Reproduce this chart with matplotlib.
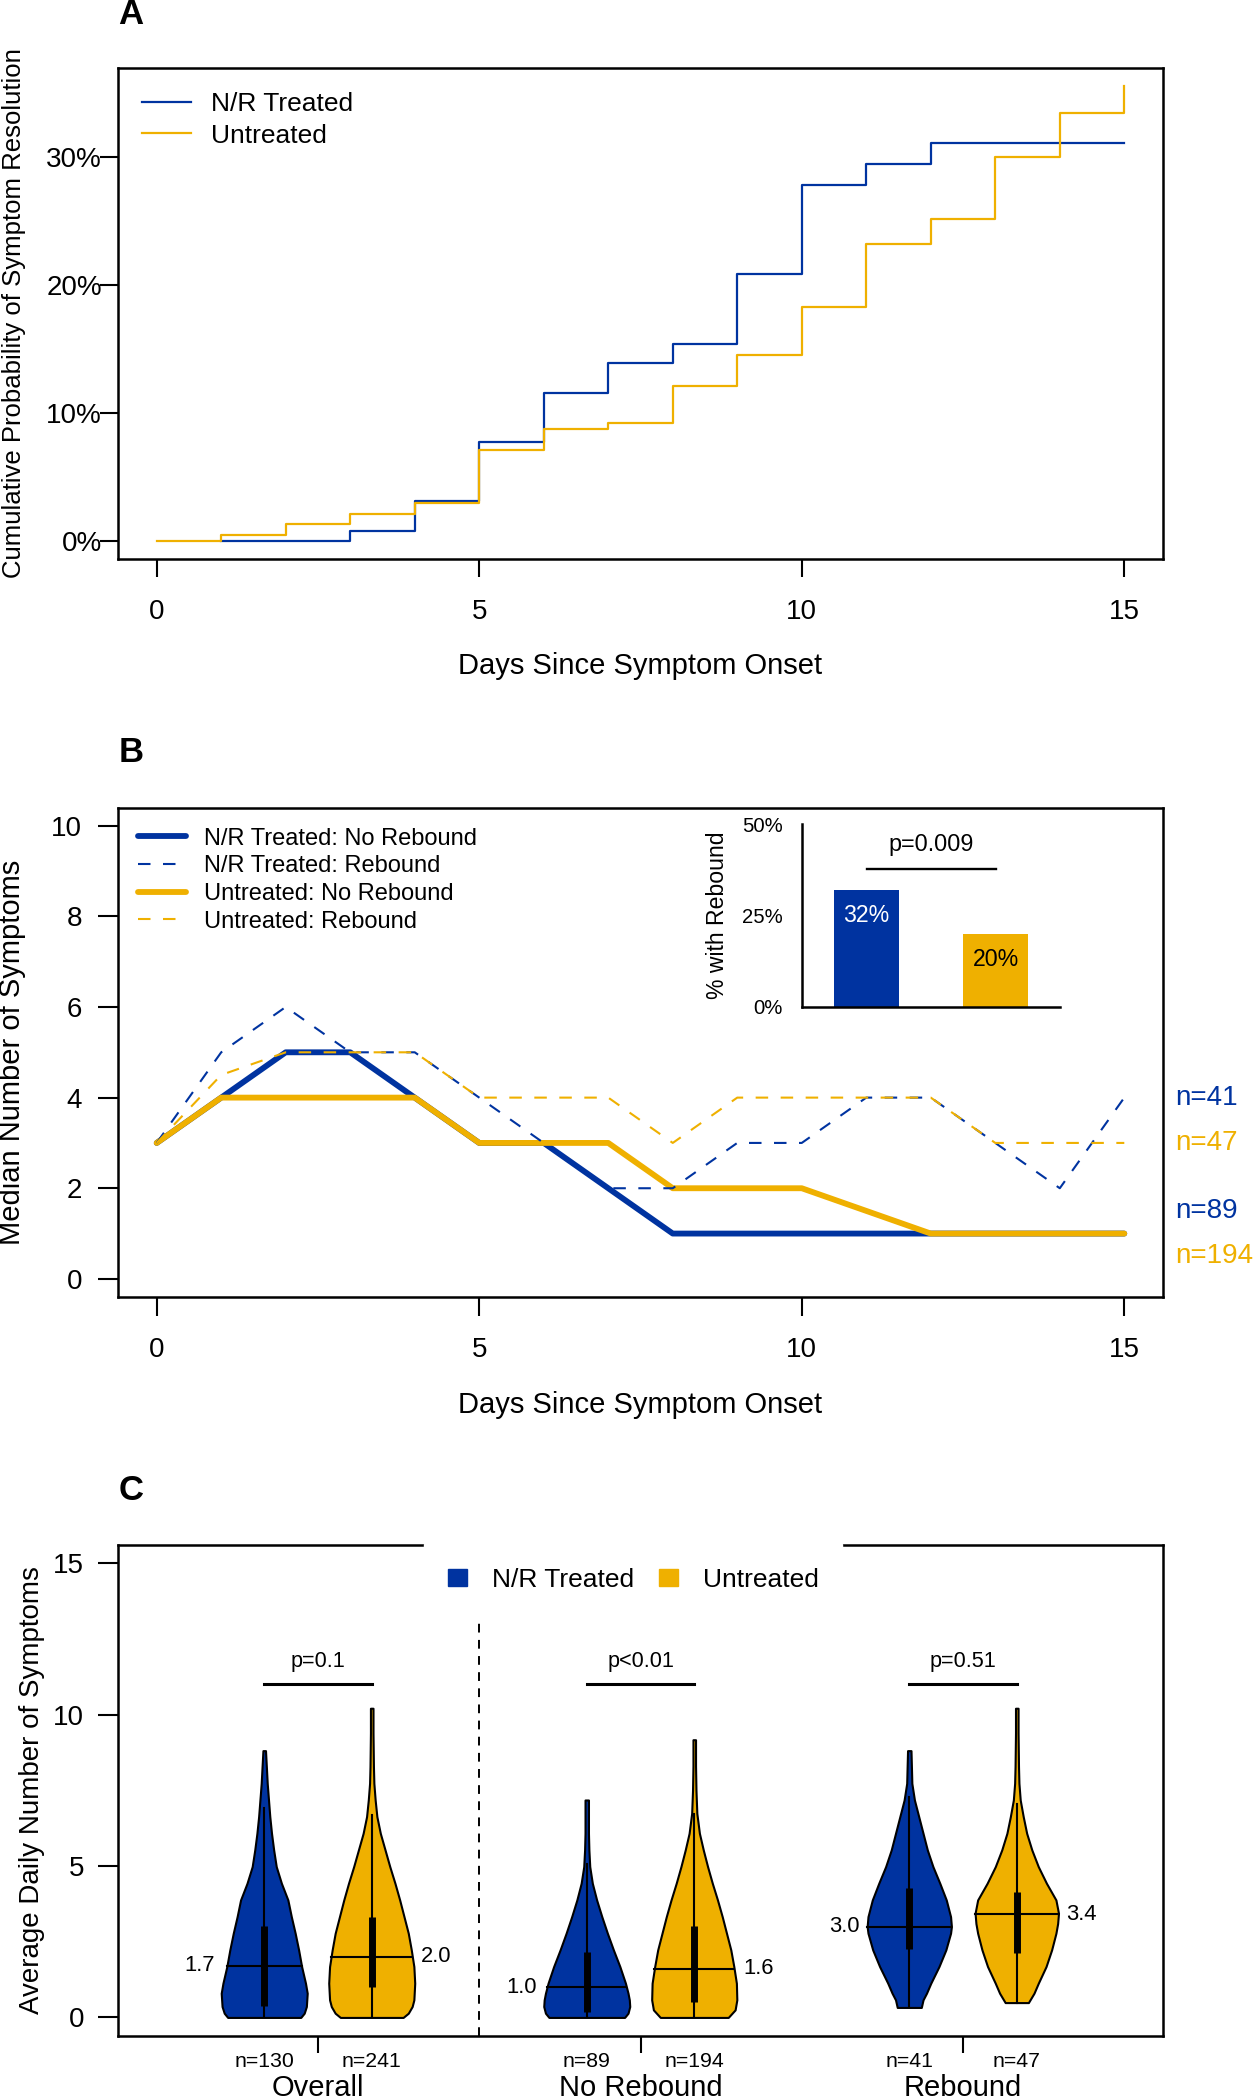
import numpy as np
import matplotlib
matplotlib.use('Agg')
import matplotlib.pyplot as plt
from matplotlib.patches import Patch
from matplotlib.transforms import blended_transform_factory

plt.rcParams['font.family'] = ['Liberation Sans', 'DejaVu Sans']

BLUE = '#0033A0'
GOLD = '#EFB000'

# ---------------- Panel A data ----------------
days = list(range(16))
a_treated_days = days[1:]
a_treated = [0, 0, 0.77, 3.1, 7.7, 11.55, 13.9, 15.4, 20.8, 27.8, 29.4, 31.1, 31.1, 31.1, 31.1]
a_untreated = [0, 0.45, 1.3, 2.1, 2.96, 7.07, 8.74, 9.2, 12.08, 14.5, 18.27, 23.2, 25.1, 30.0, 33.4, 35.5]
a_yticks = [0, 10, 20, 30]
a_yticklabels = ['0%', '10%', '20%', '30%']
x_ticks = [0, 5, 10, 15]

# ---------------- Panel B data ----------------
b_treated_norebound = [3, 4, 5, 5, 4, 3, 3, 2, 1, 1, 1, 1, 1, 1, 1, 1]
b_treated_rebound = [3, 5, 6, 5, 5, 4, 3, 2, 2, 3, 3, 4, 4, 3, 2, 4]
b_untreated_norebound = [3, 4, 4, 4, 4, 3, 3, 3, 2, 2, 2, 1.5, 1, 1, 1, 1]
b_untreated_rebound = [3, 4.5, 5, 5, 5, 4, 4, 4, 3, 4, 4, 4, 4, 3, 3, 3]
b_n_labels = ['n=41', 'n=47', 'n=89', 'n=194']
b_n_y = [4, 3, 1.5, 0.5]
b_n_colors = [BLUE, GOLD, BLUE, GOLD]
inset_pct = [32, 20]
inset_labels = ['32%', '20%']
inset_p = 'p=0.009'

# ---------------- Panel C data ----------------
c_groups = ['Overall', 'No Rebound', 'Rebound']
c_n = ['n=130', 'n=241', 'n=89', 'n=194', 'n=41', 'n=47']
c_pvals = ['p=0.1', 'p<0.01', 'p=0.51']
c_medians = [1.7, 2.0, 1.0, 1.6, 3.0, 3.4]
c_q1 = [0.38, 0.99, 0.17, 0.50, 2.26, 2.12]
c_q3 = [3.02, 3.30, 2.15, 3.02, 4.29, 4.13]
c_wlo = [0.0, 0.0, 0.0, 0.0, 0.33, 0.49]
c_whi = [6.9, 6.7, 5.06, 6.73, 7.28, 7.04]

v_overall_t_y = [0.0, 0.14, 0.36, 0.8, 1.13, 1.68, 2.23, 2.78, 3.33, 3.88, 4.43, 4.98, 5.53, 6.08, 6.63, 7.18, 7.73, 8.28, 8.81]
v_overall_t_d = [0.85, 0.93, 0.98, 1.0, 0.96, 0.87, 0.80, 0.72, 0.63, 0.55, 0.40, 0.28, 0.22, 0.17, 0.13, 0.10, 0.07, 0.05, 0.03]
v_overall_u_y = [0.0, 0.14, 0.36, 0.58, 1.13, 1.68, 2.23, 2.78, 3.33, 3.88, 4.43, 4.98, 5.53, 6.08, 6.63, 7.18, 7.73, 8.28, 9.39, 10.21]
v_overall_u_d = [0.73, 0.85, 0.94, 0.98, 1.0, 0.98, 0.92, 0.85, 0.75, 0.65, 0.54, 0.42, 0.31, 0.20, 0.12, 0.08, 0.05, 0.04, 0.03, 0.03]
v_norb_t_y = [0.0, 0.14, 0.36, 0.58, 0.80, 1.13, 1.68, 2.23, 2.78, 3.33, 3.88, 4.43, 4.98, 5.53, 6.08, 6.63, 7.18]
v_norb_t_d = [0.88, 0.96, 1.0, 0.99, 0.96, 0.90, 0.77, 0.62, 0.48, 0.35, 0.23, 0.13, 0.07, 0.05, 0.04, 0.04, 0.04]
v_norb_u_y = [0.0, 0.25, 0.58, 1.13, 1.68, 2.23, 2.78, 3.33, 3.88, 4.43, 4.98, 5.53, 6.08, 6.74, 7.5, 8.3, 9.17]
v_norb_u_d = [0.79, 0.95, 0.99, 0.98, 0.92, 0.85, 0.75, 0.65, 0.54, 0.42, 0.31, 0.21, 0.12, 0.06, 0.04, 0.03, 0.03]
v_rb_t_y = [0.33, 0.58, 0.80, 1.13, 1.68, 2.23, 2.78, 3.0, 3.33, 3.88, 4.43, 4.98, 5.53, 6.08, 6.63, 7.18, 7.73, 8.28, 8.81]
v_rb_t_d = [0.28, 0.32, 0.40, 0.50, 0.69, 0.85, 0.96, 0.98, 0.96, 0.86, 0.71, 0.55, 0.42, 0.32, 0.22, 0.12, 0.06, 0.05, 0.04]
v_rb_u_y = [0.49, 0.8, 1.13, 1.68, 2.23, 2.78, 3.1, 3.44, 3.88, 4.43, 4.98, 5.53, 6.08, 6.63, 7.18, 7.73, 8.28, 9.39, 10.21]
v_rb_u_d = [0.27, 0.40, 0.50, 0.68, 0.81, 0.91, 0.95, 0.97, 0.91, 0.69, 0.50, 0.35, 0.23, 0.15, 0.08, 0.05, 0.04, 0.03, 0.03]

violins = [(v_overall_t_y, v_overall_t_d), (v_overall_u_y, v_overall_u_d),
           (v_norb_t_y, v_norb_t_d), (v_norb_u_y, v_norb_u_d),
           (v_rb_t_y, v_rb_t_d), (v_rb_u_y, v_rb_u_d)]
positions = [1, 2, 4, 5, 7, 8]
group_pos = [1.5, 4.5, 7.5]
v_colors = [BLUE, GOLD, BLUE, GOLD, BLUE, GOLD]

# ---------------- Layout ----------------
W, H = 1256, 2100
fig = plt.figure(figsize=(W / 100, H / 100), dpi=100)


def box(l, t, r, b):
    return [l / W, 1 - b / H, (r - l) / W, (b - t) / H]


axA = fig.add_axes(box(118, 68, 1163, 559))
axB = fig.add_axes(box(118, 807.6, 1163, 1297))
axC = fig.add_axes(box(118, 1545, 1163, 2035.6))
axI = fig.add_axes(box(802, 824, 1060, 1006.7))

for ax in (axA, axB, axC):
    for s in ax.spines.values():
        s.set_linewidth(1.8)

# ---------------- Panel A ----------------
axA.step(a_treated_days, a_treated, where='post', color=BLUE, lw=1.6, label='N/R Treated')
axA.step(days, a_untreated, where='post', color=GOLD, lw=1.6, label='Untreated')
axA.set_xlim(-0.6, 15.6)
axA.set_ylim(-1.42, 36.92)
axA.set_yticks(a_yticks)
axA.set_yticklabels(a_yticklabels)
axA.set_xticks(x_ticks)
axA.tick_params(axis='y', length=13, width=1.5, pad=-1.5, labelsize=20)
axA.tick_params(axis='x', length=13, width=1.5, pad=15.5, labelsize=20)
axA.set_xlabel('Days Since Symptom Onset', fontsize=21)
axA.xaxis.label.set_va('center')
axA.xaxis.set_label_coords(0.5, -(666 - 559) / 491)
axA.set_ylabel('Cumulative Probability of Symptom Resolution', fontsize=18.5)
axA.yaxis.label.set_va('center')
axA.yaxis.set_label_coords(-(118 - 14) / 1045, 0.5)
axA.legend(loc='upper left', bbox_to_anchor=(0.0, 1), frameon=False, fontsize=19,
           handlelength=1.86, handletextpad=0.78, labelspacing=0.3, borderpad=0.9,
           borderaxespad=0)

# ---------------- Panel B ----------------
dash = (0, (6, 6))
l1, = axB.plot(days, b_treated_norebound, color=BLUE, lw=4.2, solid_capstyle='round',
               solid_joinstyle='round', label='N/R Treated: No Rebound')
l3, = axB.plot(days, b_untreated_norebound, color=GOLD, lw=4.2, solid_capstyle='round',
               solid_joinstyle='round', label='Untreated: No Rebound')
l2, = axB.plot(days, b_treated_rebound, color=BLUE, lw=1.5, ls=dash, label='N/R Treated: Rebound')
l4, = axB.plot(days, b_untreated_rebound, color=GOLD, lw=1.5, ls=dash, label='Untreated: Rebound')
axB.set_xlim(-0.6, 15.6)
axB.set_ylim(-0.4, 10.4)
axB.set_yticks([0, 2, 4, 6, 8, 10])
axB.set_xticks(x_ticks)
axB.tick_params(axis='y', length=14.4, width=1.5, pad=11.5, labelsize=20)
axB.tick_params(axis='x', length=13.5, width=1.5, pad=15, labelsize=20)
axB.set_xlabel('Days Since Symptom Onset', fontsize=21)
axB.xaxis.label.set_va('center')
axB.xaxis.set_label_coords(0.5, -(1405 - 1297) / 489.4)
axB.set_ylabel('Median Number of Symptoms', fontsize=21)
axB.yaxis.label.set_va('center')
axB.yaxis.set_label_coords(-(118 - 12) / 1045, 0.5)
axB.legend(handles=[l1, l2, l3, l4], loc='upper left', bbox_to_anchor=(0, 1), frameon=False,
           fontsize=17, handlelength=2.03, handletextpad=0.75, labelspacing=0.24,
           borderpad=0.85, borderaxespad=0)
tr = blended_transform_factory(axB.transAxes, axB.transData)
for s, y, c in zip(b_n_labels, b_n_y, b_n_colors):
    axB.text(1.0115, y, s, color=c, fontsize=20, ha='left', va='center',
             transform=tr, clip_on=False)

# inset
axI.set_facecolor('none')
axI.bar([1, 2], inset_pct, width=0.5, color=[BLUE, GOLD])
axI.set_xlim(0.5, 2.5)
axI.set_ylim(0, 50)
axI.spines['top'].set_visible(False)
axI.spines['right'].set_visible(False)
axI.spines['left'].set_linewidth(1.8)
axI.spines['bottom'].set_linewidth(1.8)
axI.set_yticks([0, 25, 50])
axI.set_yticklabels(['0%', '25%', '50%'])
axI.set_xticks([])
axI.tick_params(axis='y', length=0, pad=14, labelsize=14.6)
axI.set_ylabel('% with Rebound', fontsize=16.6)
axI.yaxis.label.set_va('center')
axI.yaxis.set_label_coords((718 - 802) / 258, 0.5)
axI.plot([1, 2], [37.6, 37.6], color='black', lw=1.7)
axI.text(1.5, 44.3, inset_p, fontsize=16.8, ha='center', va='center')
for xb, v, lab, c in zip([1, 2], inset_pct, inset_labels, ['white', 'black']):
    axI.text(xb, v - 7, lab, color=c, fontsize=16.7, ha='center', va='center')

# ---------------- Panel C ----------------
half = 0.4
for i, ((vy, vd), p, col) in enumerate(zip(violins, positions, v_colors)):
    vy = np.array(vy)
    vd = np.array(vd)
    axC.fill_betweenx(vy, p - vd * half, p + vd * half, facecolor=col, edgecolor='black',
                      lw=1.5, zorder=2)
    axC.plot([p, p], [c_wlo[i], c_whi[i]], color='black', lw=1.5, zorder=3)
    axC.plot([p, p], [c_q1[i], c_q3[i]], color='black', lw=5, solid_capstyle='butt', zorder=4)
    hw = np.interp(c_medians[i], vy, vd) * half
    axC.plot([p - hw, p + hw], [c_medians[i], c_medians[i]], color='black', lw=1.5, zorder=4)
    if i % 2 == 0:
        axC.text(p - 0.46, c_medians[i], f'{c_medians[i]:.1f}', ha='right', va='center', fontsize=15.8)
    else:
        axC.text(p + 0.46, c_medians[i], f'{c_medians[i]:.1f}', ha='left', va='center', fontsize=15.8)

for g, pv in enumerate(c_pvals):
    p1, p2 = positions[2 * g], positions[2 * g + 1]
    axC.plot([p1, p2], [11, 11], color='black', lw=2.2)
    axC.text((p1 + p2) / 2, 11.75, pv, ha='center', va='center', fontsize=15.6)

axC.axvline(3, color='black', lw=1.4, ls=(0, (4.5, 3.8)), zorder=1)
axC.set_xlim(-0.36, 9.36)
axC.set_ylim(-0.6, 15.6)
axC.set_yticks([0, 5, 10, 15])
axC.set_xticks(group_pos)
axC.set_xticklabels(c_groups)
axC.set_xticks(positions, minor=True)
axC.set_xticklabels(c_n, minor=True)
axC.tick_params(axis='x', which='major', length=12, width=1.5, pad=15.8, labelsize=21)
axC.tick_params(axis='x', which='minor', length=0, pad=11.5, labelsize=15.3)
axC.tick_params(axis='y', length=14.4, width=1.5, pad=10, labelsize=20)
axC.set_ylabel('Average Daily Number of Symptoms', fontsize=20)
axC.yaxis.label.set_va('center')
axC.yaxis.set_label_coords(-(118 - 32) / 1045, 0.5)
leg = axC.legend(handles=[Patch(facecolor=BLUE, edgecolor=BLUE), Patch(facecolor=GOLD, edgecolor=GOLD)],
                 labels=['N/R Treated', 'Untreated'], ncol=2, loc='center',
                 bbox_to_anchor=(0.493, 0.929), fontsize=19, handlelength=0.72,
                 handleheight=0.57, handletextpad=0.95, columnspacing=0.94,
                 frameon=True, facecolor='white', edgecolor='white', framealpha=1,
                 fancybox=False, borderpad=0.9)
leg.set_zorder(10)

# panel letters
for lab, yy in (('A', 14), ('B', 753), ('C', 1490)):
    fig.text(131 / W, 1 - yy / H, lab, fontsize=25, fontweight='bold', ha='center', va='center')

fig.savefig('out.png', dpi=100)
